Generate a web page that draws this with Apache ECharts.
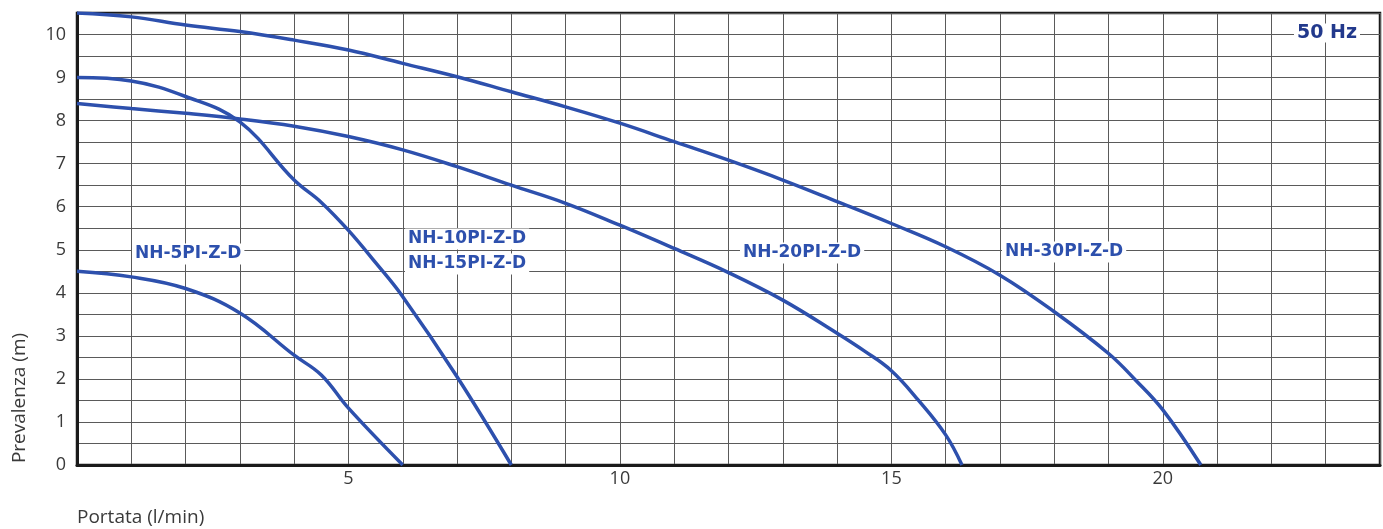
<!DOCTYPE html>
<html>
<head>
<meta charset="utf-8">
<script src="https://cdn.jsdelivr.net/npm/echarts@6/dist/echarts.min.js"></script>
<style>
html,body{margin:0;padding:0;background:#fff;}
#c{width:1383px;height:529px;}
</style>
</head>
<body>
<div id="c"></div>
<script>
// Curves: [portata l/min, prevalenza m]
const nh5 = [[0,4.5],[1,4.37],[2,4.1],[3,3.53],[4,2.55],[4.5,2.09],[5,1.32],[6,0]];
const nh10 = [[0,9.0],[1,8.92],[2,8.56],[3,7.97],[4,6.62],[4.5,6.1],[5,5.45],[5.5,4.7],[6,3.91],[7,2.05],[8,0]];
const nh20 = [[0,8.4],[1,8.28],[2,8.17],[3,8.04],[4,7.87],[5,7.63],[6,7.32],[7,6.93],[8,6.5],[9,6.08],[10,5.57],[11,5.03],[12,4.47],[13,3.83],[14,3.06],[14.5,2.65],[15,2.19],[15.5,1.5],[16,0.7],[16.3,0]];
const nh30 = [[0,10.5],[1,10.41],[2,10.22],[3,10.07],[4,9.87],[5,9.64],[6,9.33],[7,9.02],[8,8.67],[9,8.32],[10,7.94],[11,7.51],[12,7.08],[13,6.62],[14,6.12],[15,5.61],[16,5.07],[17,4.41],[18,3.56],[19,2.59],[19.5,1.97],[20,1.28],[20.7,0]];
const seriesNames = ['NH-5PI-Z-D','NH-10PI-Z-D','NH-20PI-Z-D','NH-30PI-Z-D'];
const xLabelValues = [5,10,15,20];
const yLabelValues = [0,1,2,3,4,5,6,7,8,9,10];

const blue = '#2d50ad';
const chart = echarts.init(document.getElementById('c'));
const mk = (name, data) => ({
  name, type: 'line', data, smooth: 0.4, symbol: 'none',
  lineStyle: {color: blue, width: 3.5}, z: 5
});
const lbl = (text, x, y) => ({
  type: 'text', x, y, z: 20,
  style: {text, fill: blue, font: 'bold 17px "DejaVu Sans", sans-serif',
    align: 'left', verticalAlign: 'middle', backgroundColor: '#fff', padding: [2, 3]}
});
const fam = '"Open Sans", "Noto Sans", sans-serif';
chart.setOption({
  animation: false,
  backgroundColor: '#fff',
  grid: {left: 77, right: 3, top: 13, bottom: 64, show: true, borderColor: '#1a1a1a', borderWidth: 2.5, backgroundColor: 'transparent'},
  xAxis: {
    type: 'value', min: 0, max: 24, interval: 1,
    axisLine: {show: true, lineStyle: {color: '#1a1a1a', width: 3}},
    axisTick: {show: false},
    splitLine: {show: true, lineStyle: {color: '#5a5a5a', width: 1}},
    axisLabel: {margin: 5, color: '#3a3a3a', fontSize: 18, fontFamily: fam,
      formatter: v => xLabelValues.includes(v) ? String(v) : ''}
  },
  yAxis: {
    type: 'value', min: 0, max: 10.5, interval: 0.5,
    axisLine: {show: true, lineStyle: {color: '#1a1a1a', width: 3}},
    axisTick: {show: false},
    splitLine: {show: true, lineStyle: {color: '#5a5a5a', width: 1}},
    axisLabel: {margin: 11, color: '#3a3a3a', fontSize: 18, fontFamily: fam,
      formatter: v => yLabelValues.includes(v) ? String(v) : ''}
  },
  series: [mk(seriesNames[0], nh5), mk(seriesNames[1], nh10), mk(seriesNames[2], nh20), mk(seriesNames[3], nh30)],
  graphic: [
    lbl('NH-5PI-Z-D', 132, 254),
    lbl('NH-10PI-Z-D', 405, 239),
    lbl('NH-15PI-Z-D', 405, 264),
    lbl('NH-20PI-Z-D', 740, 253),
    lbl('NH-30PI-Z-D', 1002, 252),
    {type: 'text', x: 1294, y: 33, z: 20,
      style: {text: '50 Hz', fill: '#22398c', font: 'bold 19px "DejaVu Sans", sans-serif', align: 'left', verticalAlign: 'middle', backgroundColor: '#fff', padding: [0, 3]}},
    {type: 'text', x: 20, y: 398, rotation: Math.PI / 2, z: 20,
      style: {text: 'Prevalenza (m)', fill: '#3a3a3a', font: '19px ' + fam, align: 'center', verticalAlign: 'middle'}},
    {type: 'text', x: 77, y: 518, z: 20,
      style: {text: 'Portata (l/min)', fill: '#3a3a3a', font: '19px ' + fam, align: 'left', verticalAlign: 'middle'}}
  ]
});
</script>
</body>
</html>
